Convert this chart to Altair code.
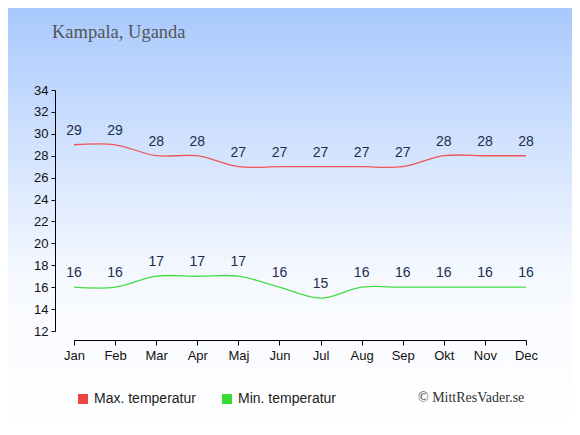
import altair as alt
import pandas as pd

months = ["Jan", "Feb", "Mar", "Apr", "Maj", "Jun", "Jul", "Aug", "Sep", "Okt", "Nov", "Dec"]
max_temp = [29, 29, 28, 28, 27, 27, 27, 27, 27, 28, 28, 28]
min_temp = [16, 16, 17, 17, 17, 16, 15, 16, 16, 16, 16, 16]
series_names = ["Max. temperatur", "Min. temperatur"]
line_colors = ["#ee5555", "#44dd44"]
legend_colors = ["#ee4444", "#33dd33"]
y_ticks = [12, 14, 16, 18, 20, 22, 24, 26, 28, 30, 32, 34]
title_text = "Kampala, Uganda"
credit_text = "© MittResVader.se"

rows = []
for m, v in zip(months, max_temp):
    rows.append({"month": m, "value": v, "series": series_names[0]})
for m, v in zip(months, min_temp):
    rows.append({"month": m, "value": v, "series": series_names[1]})
df = pd.DataFrame(rows)

W, H = 452, 241
PL, PT, PR, PB = 66, 82, 46, 96

one = pd.DataFrame({"a": [0]})

bg = alt.Chart(one).mark_rect(
    color={
        "gradient": "linear",
        "x1": 0, "y1": 0, "x2": 0, "y2": 1,
        "stops": [
            {"offset": 0, "color": "#a8c9fd"},
            {"offset": 0.35, "color": "#d4e4fe"},
            {"offset": 0.65, "color": "#f6f9ff"},
            {"offset": 1, "color": "#ffffff"},
        ],
    }
).encode(
    x=alt.value(-PL), x2=alt.value(W + PR),
    y=alt.value(-PT), y2=alt.value(H + PB),
)

xaxis = alt.Axis(title=None, labelAngle=0, offset=9, domainColor="#000",
                 tickColor="#000", tickSize=5, labelFontSize=13,
                 labelFont="Liberation Sans", labelColor="#111", labelPadding=4,
                 labelOverlap=False, zindex=2)
yaxis = alt.Axis(title=None, values=y_ticks, offset=19,
                 domainColor="#000", tickColor="#000", tickSize=4,
                 labelFontSize=13, labelFont="Liberation Sans",
                 labelColor="#111", grid=False, labelPadding=3,
                 labelOverlap=False, zindex=2)
xscale = alt.Scale(type="point", padding=0)
yscale = alt.Scale(domain=[12, 34], nice=False, zero=False)

xenc = alt.X("month:O", sort=months, scale=xscale, axis=xaxis)
yenc = alt.Y("value:Q", scale=yscale, axis=yaxis)

line_layers = []
for name, c in zip(series_names, line_colors):
    line_layers.append(
        alt.Chart(df).transform_filter(alt.datum.series == name)
        .mark_line(interpolate="catmull-rom", strokeWidth=1.3, color=c)
        .encode(x=xenc, y=yenc)
    )

legend_pts = alt.Chart(df).mark_square(filled=True, size=0).encode(
    x=xenc, y=yenc,
    fill=alt.Fill("series:N", scale=alt.Scale(domain=series_names, range=legend_colors),
                  legend=alt.Legend(title=None, orient="none", legendX=2, legendY=302,
                                    direction="horizontal", symbolType="square",
                                    symbolSize=100, symbolStrokeWidth=0,
                                    symbolOpacity=1,
                                    labelFontSize=14, labelFont="Liberation Sans",
                                    labelColor="#222", columnPadding=24, labelOffset=4,
                                    padding=0, zindex=2)),
)

labels = alt.Chart(df).mark_text(baseline="bottom", dy=-7, fontSize=14,
                                 font="Liberation Sans", color="#1c2e4e").encode(
    x=xenc, y=yenc, text="value:Q"
)

title = alt.Chart(one).mark_text(text=title_text, font="Liberation Serif", fontSize=18.5,
                                 color="#555555", align="left", baseline="alphabetic").encode(
    x=alt.value(-22), y=alt.value(-52)
)

credit = alt.Chart(one).mark_text(text=credit_text, font="Liberation Serif", fontSize=14,
                                  color="#333333", align="left", baseline="middle").encode(
    x=alt.value(344), y=alt.value(308)
)

chart = alt.layer(bg, *line_layers, legend_pts, labels, title, credit).properties(
    width=W, height=H,
    autosize=alt.AutoSizeParams(type="none"),
    padding={"left": PL, "top": PT, "right": PR, "bottom": PB},
).configure_view(stroke=None).configure_axis(grid=False)

chart.save("out.html", embed_options={"renderer": "svg", "actions": False})
